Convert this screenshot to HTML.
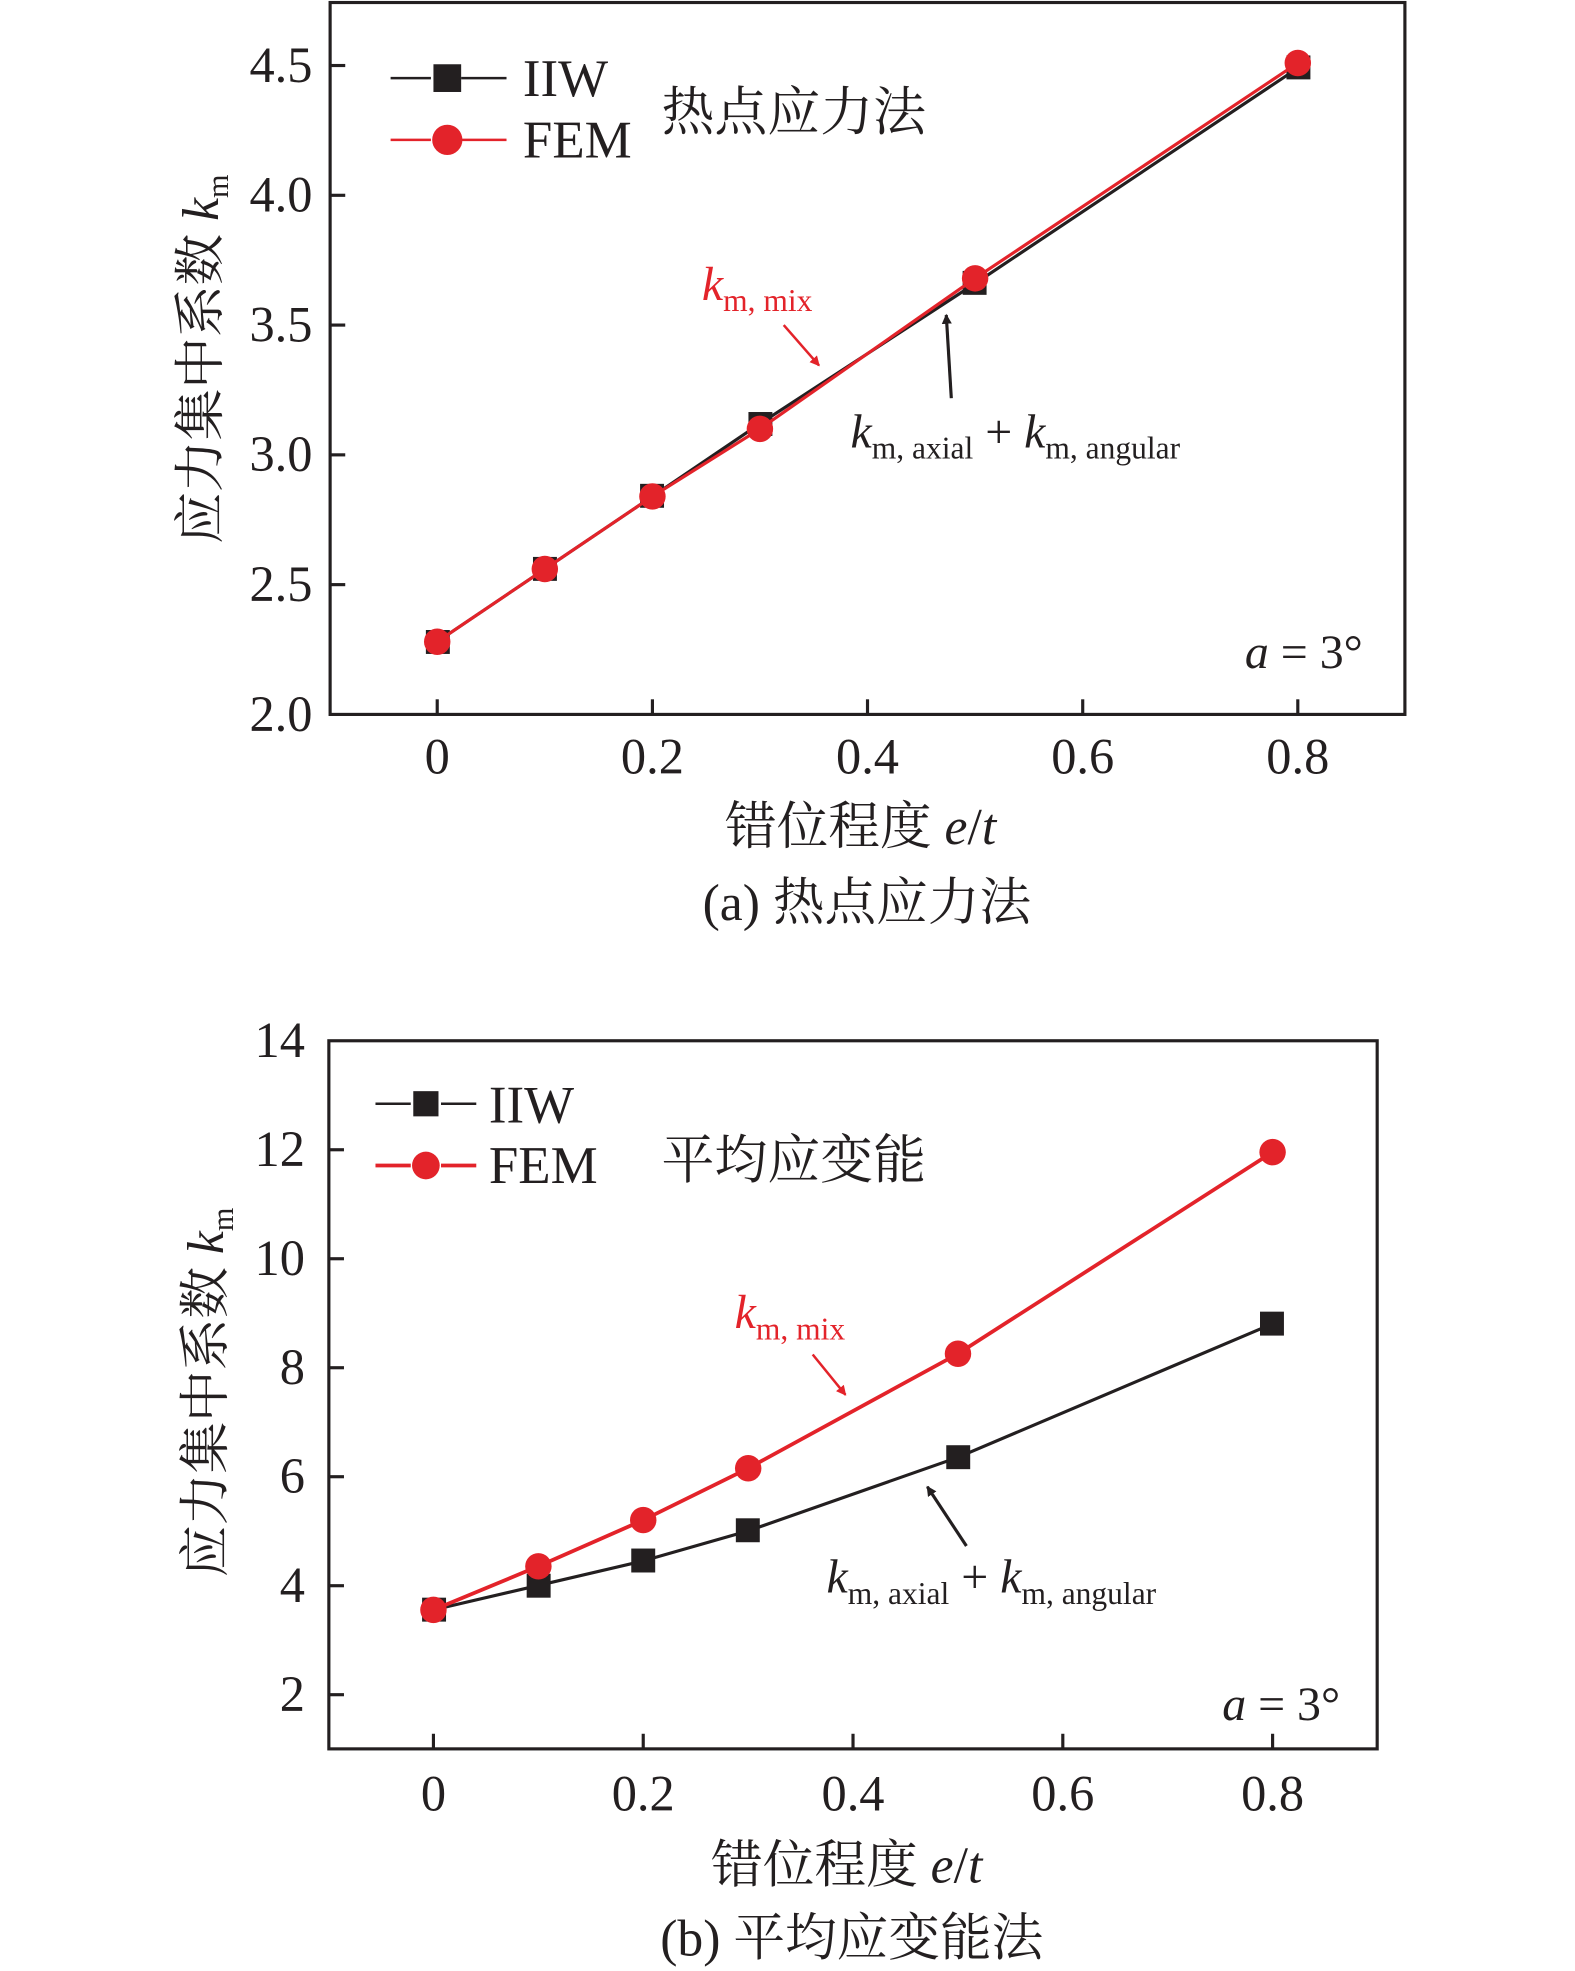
<!DOCTYPE html>
<html><head><meta charset="utf-8"><style>
html,body{margin:0;padding:0;background:#fff;}
svg{display:block}
text{font-family:"Liberation Serif","Noto Serif CJK SC",serif;fill:#231f20}
</style></head><body>
<svg width="1575" height="1971" viewBox="0 0 1575 1971" xmlns="http://www.w3.org/2000/svg">
<defs>
<marker id="ar" markerWidth="8" markerHeight="8" refX="7" refY="4" orient="auto" markerUnits="userSpaceOnUse"><path d="M0,0 L8,4 L0,8 z" fill="#231f20"/></marker>
<marker id="arr" markerWidth="8" markerHeight="8" refX="7" refY="4" orient="auto" markerUnits="userSpaceOnUse"><path d="M0,0 L8,4 L0,8 z" fill="#e3232a"/></marker>
</defs>
<g transform="scale(1.26)">
<!-- ===== Plot a ===== -->
<rect x="262" y="2" width="853" height="565" fill="none" stroke="#231f20" stroke-width="2.5"/>
<g stroke="#231f20" stroke-width="2.5">
<line x1="262" y1="52" x2="274" y2="52"/><line x1="262" y1="155" x2="274" y2="155"/><line x1="262" y1="258" x2="274" y2="258"/><line x1="262" y1="361" x2="274" y2="361"/><line x1="262" y1="464" x2="274" y2="464"/>
<line x1="347" y1="567" x2="347" y2="555"/><line x1="517.8" y1="567" x2="517.8" y2="555"/><line x1="688.5" y1="567" x2="688.5" y2="555"/><line x1="859.3" y1="567" x2="859.3" y2="555"/><line x1="1030" y1="567" x2="1030" y2="555"/>
</g>
<g font-size="40" text-anchor="end">
<text x="248" y="65">4.5</text><text x="248" y="168">4.0</text><text x="248" y="271">3.5</text><text x="248" y="374">3.0</text><text x="248" y="477">2.5</text><text x="248" y="580">2.0</text>
</g>
<g font-size="40" text-anchor="middle">
<text x="347" y="614">0</text><text x="517.8" y="614">0.2</text><text x="688.5" y="614">0.4</text><text x="859.3" y="614">0.6</text><text x="1030" y="614">0.8</text>
</g>
<text x="683" y="670" font-size="41" text-anchor="middle">错位程度 <tspan font-style="italic">e</tspan>/<tspan font-style="italic">t</tspan></text>
<text x="688" y="730" font-size="41" text-anchor="middle">(a) 热点应力法</text>
<text transform="translate(173,285) rotate(-90)" font-size="41" text-anchor="middle">应力集中系数 <tspan font-style="italic">k</tspan><tspan font-size="24" dy="8">m</tspan></text>
<!-- legend -->
<line x1="310" y1="62" x2="342" y2="62" stroke="#231f20" stroke-width="2"/><line x1="366" y1="62" x2="402" y2="62" stroke="#231f20" stroke-width="2"/>
<rect x="344" y="51" width="22" height="22" fill="#231f20"/>
<text x="415" y="76" font-size="42">IIW</text>
<line x1="310" y1="111" x2="342" y2="111" stroke="#e3232a" stroke-width="2"/><line x1="366" y1="111" x2="402" y2="111" stroke="#e3232a" stroke-width="2"/>
<circle cx="355" cy="111" r="12" fill="#e3232a"/>
<text x="415" y="125" font-size="42">FEM</text>
<text x="525" y="103" font-size="42">热点应力法</text>
<!-- series -->
<polyline points="347,509.3 432.4,451.6 517.8,394 603.1,336.3 773.9,225 1030,54" fill="none" stroke="#231f20" stroke-width="2.5"/>
<g fill="#231f20"><rect x="338" y="500" width="19" height="19"/><rect x="423" y="442" width="19" height="19"/><rect x="508" y="384" width="19" height="19"/><rect x="594" y="327" width="19" height="19"/><rect x="764" y="215" width="19" height="19"/><rect x="1021" y="44" width="19" height="19"/></g>
<polyline points="347,509.3 432.4,451.6 517.8,394 603.1,340.4 773.9,220.9 1030,50" fill="none" stroke="#e3232a" stroke-width="2.5"/>
<g fill="#e3232a"><circle cx="347" cy="509.3" r="10.5"/><circle cx="432.4" cy="451.6" r="10.5"/><circle cx="517.8" cy="394" r="10.5"/><circle cx="603.1" cy="340.4" r="10.5"/><circle cx="773.9" cy="220.9" r="10.5"/><circle cx="1030" cy="50" r="10.5"/></g>
<!-- annotations -->
<text x="557" y="238" font-size="38" style="fill:#e3232a"><tspan font-style="italic">k</tspan><tspan font-size="25" dy="9">m, mix</tspan></text>
<line x1="622" y1="258" x2="650" y2="290" stroke="#e3232a" stroke-width="2" marker-end="url(#arr)"/>
<line x1="755" y1="316" x2="751" y2="250" stroke="#231f20" stroke-width="2.5" marker-end="url(#ar)"/>
<text x="675" y="355" font-size="38"><tspan font-style="italic">k</tspan><tspan font-size="25" dy="9">m, axial</tspan><tspan dy="-9"> + </tspan><tspan font-style="italic">k</tspan><tspan font-size="25" dy="9">m, angular</tspan></text>
<text x="988" y="530" font-size="38"><tspan font-style="italic">a</tspan> = 3°</text>

<!-- ===== Plot b ===== -->
<rect x="261" y="826" width="832" height="562" fill="none" stroke="#231f20" stroke-width="2.5"/>
<g stroke="#231f20" stroke-width="2.5">
<line x1="261" y1="912.5" x2="273" y2="912.5"/><line x1="261" y1="999" x2="273" y2="999"/><line x1="261" y1="1085.5" x2="273" y2="1085.5"/><line x1="261" y1="1172" x2="273" y2="1172"/><line x1="261" y1="1258.5" x2="273" y2="1258.5"/><line x1="261" y1="1345" x2="273" y2="1345"/>
<line x1="344" y1="1388" x2="344" y2="1376"/><line x1="510.5" y1="1388" x2="510.5" y2="1376"/><line x1="677" y1="1388" x2="677" y2="1376"/><line x1="843.5" y1="1388" x2="843.5" y2="1376"/><line x1="1010" y1="1388" x2="1010" y2="1376"/>
</g>
<g font-size="40" text-anchor="end">
<text x="242" y="839">14</text><text x="242" y="925.5">12</text><text x="242" y="1012">10</text><text x="242" y="1098.5">8</text><text x="242" y="1185">6</text><text x="242" y="1271.5">4</text><text x="242" y="1358">2</text>
</g>
<g font-size="40" text-anchor="middle">
<text x="344" y="1437">0</text><text x="510.5" y="1437">0.2</text><text x="677" y="1437">0.4</text><text x="843.5" y="1437">0.6</text><text x="1010" y="1437">0.8</text>
</g>
<text x="672" y="1494" font-size="41" text-anchor="middle">错位程度 <tspan font-style="italic">e</tspan>/<tspan font-style="italic">t</tspan></text>
<text x="676" y="1552" font-size="41" text-anchor="middle">(b) 平均应变能法</text>
<text transform="translate(177,1105) rotate(-90)" font-size="41" text-anchor="middle">应力集中系数 <tspan font-style="italic">k</tspan><tspan font-size="24" dy="8">m</tspan></text>
<line x1="298" y1="876" x2="326" y2="876" stroke="#231f20" stroke-width="2"/><line x1="350" y1="876" x2="378" y2="876" stroke="#231f20" stroke-width="2"/>
<rect x="328" y="866" width="20" height="20" fill="#231f20"/>
<text x="388" y="891" font-size="42">IIW</text>
<line x1="298" y1="925" x2="326" y2="925" stroke="#e3232a" stroke-width="3"/><line x1="350" y1="925" x2="378" y2="925" stroke="#e3232a" stroke-width="3"/>
<circle cx="338" cy="925" r="11" fill="#e3232a"/>
<text x="388" y="939" font-size="42">FEM</text>
<text x="525" y="935" font-size="42">平均应变能</text>
<polyline points="344,1277.7 427.3,1258.3 510.5,1238.8 593.8,1215 760.3,1156.6 1010,1050.6" fill="none" stroke="#231f20" stroke-width="2.5"/>
<g fill="#231f20"><rect x="335" y="1268" width="19" height="19"/><rect x="418" y="1249" width="19" height="19"/><rect x="501" y="1229" width="19" height="19"/><rect x="584" y="1205" width="19" height="19"/><rect x="751" y="1147" width="19" height="19"/><rect x="1000" y="1041" width="19" height="19"/></g>
<polyline points="344,1277.7 427.3,1243.1 510.5,1206.4 593.8,1165.3 760.3,1074.4 1010,914.4" fill="none" stroke="#e3232a" stroke-width="3"/>
<g fill="#e3232a"><circle cx="344" cy="1277.7" r="10.5"/><circle cx="427.3" cy="1243.1" r="10.5"/><circle cx="510.5" cy="1206.4" r="10.5"/><circle cx="593.8" cy="1165.3" r="10.5"/><circle cx="760.3" cy="1074.4" r="10.5"/><circle cx="1010" cy="914.4" r="10.5"/></g>
<text x="583" y="1054" font-size="38" style="fill:#e3232a"><tspan font-style="italic">k</tspan><tspan font-size="25" dy="9">m, mix</tspan></text>
<line x1="645" y1="1075" x2="671" y2="1107" stroke="#e3232a" stroke-width="2" marker-end="url(#arr)"/>
<line x1="767" y1="1227" x2="736" y2="1180" stroke="#231f20" stroke-width="2.5" marker-end="url(#ar)"/>
<text x="656" y="1264" font-size="38"><tspan font-style="italic">k</tspan><tspan font-size="25" dy="9">m, axial</tspan><tspan dy="-9"> + </tspan><tspan font-style="italic">k</tspan><tspan font-size="25" dy="9">m, angular</tspan></text>
<text x="970" y="1365" font-size="38"><tspan font-style="italic">a</tspan> = 3°</text>
</g>
</svg>
</body></html>
